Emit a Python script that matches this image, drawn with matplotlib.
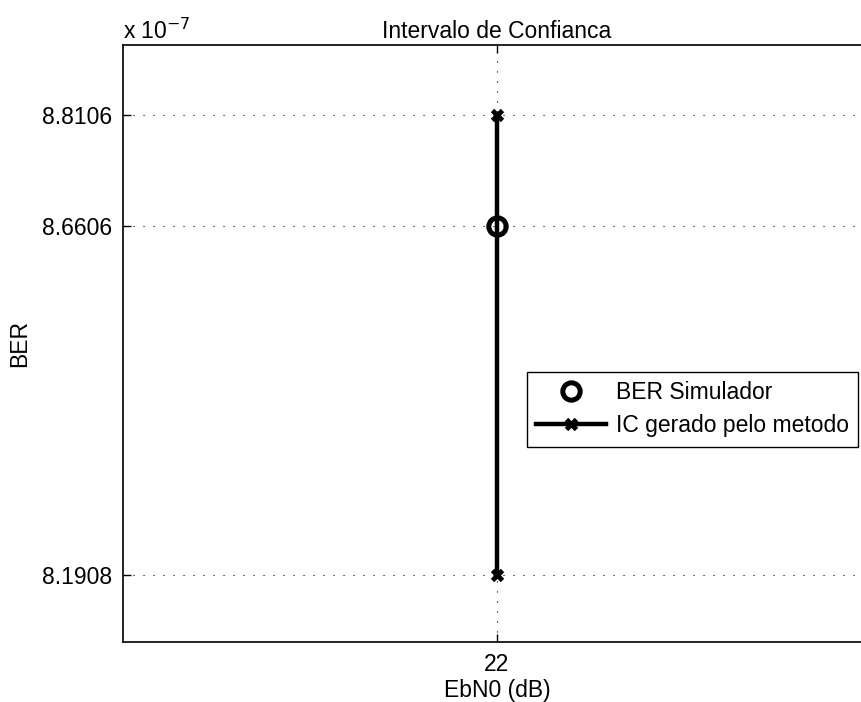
import matplotlib.pyplot as plt
from matplotlib.ticker import FixedLocator, FuncFormatter

plt.rcParams['font.family'] = ['Liberation Sans', 'DejaVu Sans']

# confidence interval at a single EbN0 point
ebn0 = [22]
ber_sim = [8.6606e-7]
ic_lower = [8.1908e-7]
ic_upper = [8.8106e-7]
scale = 1e-7
fs = 16.5

fig = plt.figure(figsize=(8.62, 7.02), dpi=100)
ax = fig.add_axes([0.1427, 0.0855, 0.8677, 0.8504])

# interval line with x at both ends
ic_x = [ebn0[0], ebn0[0]]
ic_y = [ic_lower[0], ic_upper[0]]
ax.plot(ic_x, ic_y, color='black', lw=3.2, marker='x', ms=7, mew=3.5,
        label='IC gerado pelo metodo', zorder=3)
ax.plot(ebn0, ber_sim, ls='none', marker='o', ms=12.5, mfc='none', mec='black',
        mew=3.6, label='BER Simulador', zorder=4)

ax.set_xlim(21, 23)
ax.set_ylim(8.1004e-7, 8.905e-7)
ax.xaxis.set_major_locator(FixedLocator(ebn0))
ax.yaxis.set_major_locator(FixedLocator(sorted(ic_lower + ber_sim + ic_upper)))
ax.yaxis.set_major_formatter(FuncFormatter(lambda v, p: f'{v / scale:.4f}'))

ax.grid(True, color='black', lw=0.8, ls=(0, (1, 8)))
ax.tick_params(direction='in', length=6, width=1, labelsize=fs, pad=8,
               top=True, right=True)
for s in ax.spines.values():
    s.set_linewidth(1.2)

ax.set_title('Intervalo de Confianca', fontsize=fs, pad=5)
ax.set_xlabel('EbN0 (dB)', fontsize=fs, labelpad=2)
ax.set_ylabel('BER', fontsize=fs, labelpad=8)
fig.text(0.1427, 0.937, r'x 10$^{-7}$', fontsize=fs, ha='left', va='bottom')

# legend lists the circle first
h, l = ax.get_legend_handles_labels()
leg = ax.legend(h[::-1], l[::-1], loc='upper left',
                bbox_to_anchor=(527 / 862, 1 - 372 / 702),
                bbox_transform=fig.transFigure, fontsize=fs,
                fancybox=False, framealpha=1, edgecolor='black',
                borderpad=0.4, handlelength=3.05, handletextpad=0.44,
                labelspacing=0.45, borderaxespad=0)
leg.get_frame().set_linewidth(1)

fig.savefig('out.png', dpi=100)
